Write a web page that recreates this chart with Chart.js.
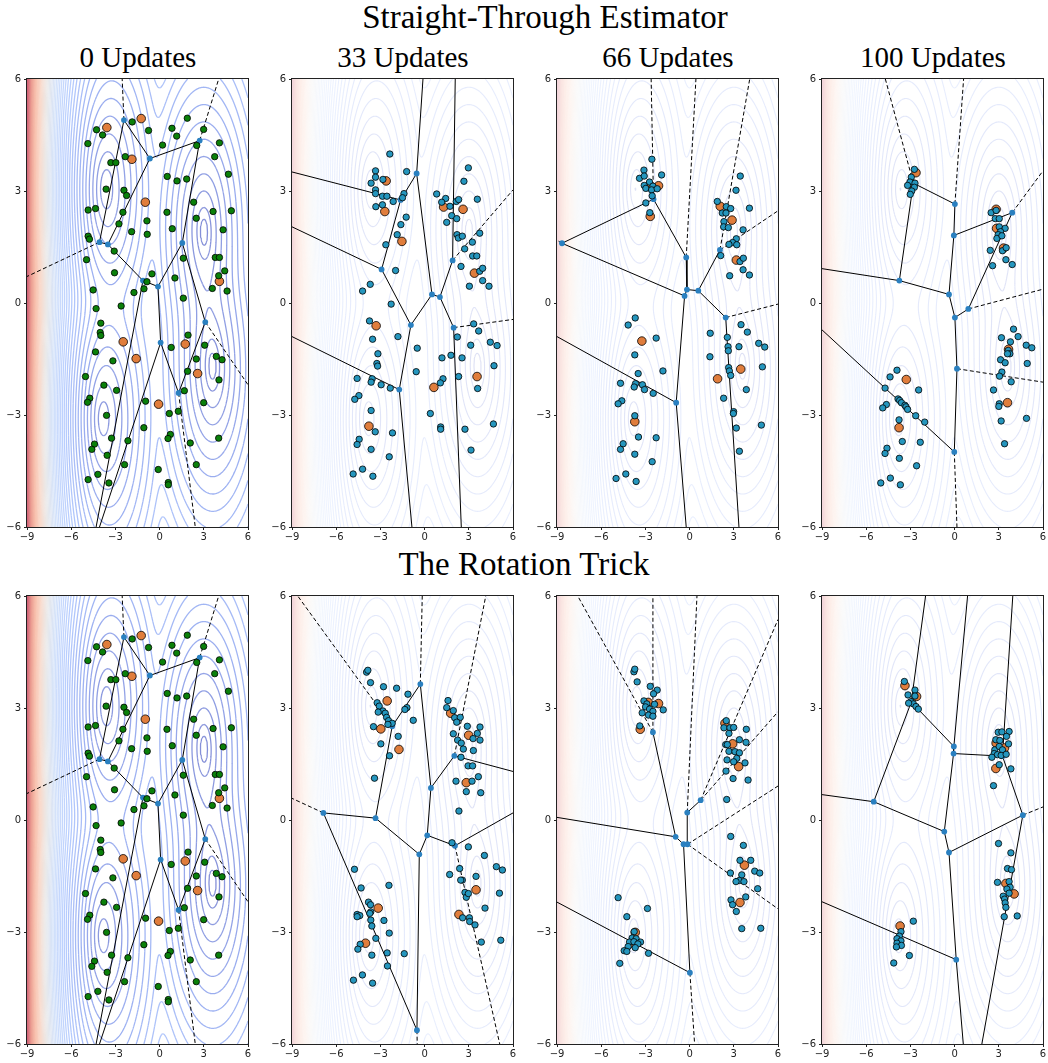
<!DOCTYPE html>
<html>
<head>
<meta charset="utf-8">
<script src="https://cdn.jsdelivr.net/npm/chart.js@4.4.1/dist/chart.umd.min.js"></script>
<style>
  body { margin: 0; background: #fff; width: 1048px; height: 1063px; position: relative; overflow: hidden; }
  .t { position: absolute; font-family: 'Liberation Serif', 'Times New Roman', serif; color: #000; white-space: nowrap; line-height: 1; text-align: center; }
  canvas { position: absolute; }
</style>
</head>
<body>
<div class="t" style="left:21px;width:1048px;top:1px;font-size:33px">Straight-Through Estimator</div>
<div class="t" style="left:0;width:1048px;top:548px;font-size:33px">The Rotation Trick</div>
<div class="t" style="left:38px;width:200px;top:43px;font-size:29px">0 Updates</div>
<div class="t" style="left:303px;width:200px;top:43px;font-size:29px">33 Updates</div>
<div class="t" style="left:568px;width:200px;top:43px;font-size:29px">66 Updates</div>
<div class="t" style="left:833px;width:200px;top:43px;font-size:29px">100 Updates</div>

<script>
// axis ticks
var xTicks = [-9, -6, -3, 0, 3, 6];
var yTicks = [-6, -3, 0, 3, 6];

// background landscape: distance to four wells, plus a wall on the left
var wellX = [-3.7, -3.9, 3.0, 3.6];
var wellY = [3.05, -3.1, 2.0, -1.8];
var wellSX = [1.1, 1.1, 1.1, 1.1];
var wellSY = [1.4, 1.4, 1.4, 1.4];
var wallHeight = 13.3, wallScale = 1.46;
var nLevels = 56;

// ---- 0 updates (same start for both methods) ----
var dataInit = [[1.88,4.95],[-1.86,4.85],[-4.28,4.64],[-0.75,4.62],[0.84,4.68],[2.99,4.65],[-3.87,4.50],[1.16,4.47],[-4.87,4.27],[0.20,4.23],[2.52,4.22],[4.06,4.29],[-2.33,3.92],[3.74,3.92],[-3.31,3.76],[-2.97,3.76],[4.67,3.45],[0.52,3.39],[1.18,3.27],[1.84,3.32],[-3.63,3.05],[-2.42,3.02],[-2.24,2.88],[2.31,2.70],[-4.35,2.53],[-4.85,2.49],[-2.49,2.43],[0.50,2.43],[3.63,2.45],[4.87,2.47],[2.49,2.27],[-0.86,2.20],[-2.76,2.12],[0.86,1.99],[4.31,1.96],[-1.90,1.91],[-0.84,1.84],[-4.85,1.79],[-4.76,1.71],[-3.08,1.39],[1.61,1.20],[3.78,1.22],[4.06,1.22],[-4.96,1.16],[4.42,0.86],[4.01,0.73],[-3.06,0.81],[-0.52,0.78],[1.04,0.67],[-0.86,0.57],[-1.06,0.38],[-4.51,0.35],[3.58,0.39],[4.58,0.32],[-1.74,0.28],[1.61,0.13],[-2.61,-0.08],[-4.31,-0.15],[-3.99,-0.54],[-4.03,-0.79],[-3.99,-0.87],[1.93,-0.86],[0.79,-1.19],[3.06,-1.13],[-4.35,-1.31],[2.49,-1.50],[3.85,-1.43],[4.24,-1.52],[-3.17,-1.55],[1.90,-1.83],[-5.03,-1.97],[4.03,-2.06],[-3.78,-2.20],[-2.92,-2.34],[1.68,-2.35],[-4.74,-2.55],[-4.89,-2.66],[-0.95,-2.63],[2.99,-2.67],[1.27,-2.90],[0.66,-2.96],[-3.60,-3.01],[-1.07,-3.34],[-3.26,-3.62],[0.73,-3.52],[0.57,-3.63],[-2.15,-3.69],[2.08,-3.75],[4.01,-3.62],[-4.42,-3.78],[-4.60,-3.92],[-3.56,-4.08],[-2.38,-4.33],[2.49,-4.33],[-0.09,-4.46],[-4.19,-4.59],[-4.85,-4.73],[-3.44,-4.82],[0.59,-4.81],[0.59,-4.87]];
var codesInit = [[-3.58,4.70],[-1.25,4.94],[-1.88,3.85],[-0.97,2.70],[4.06,0.58],[-2.47,-1.04],[-1.59,-1.49],[1.74,-1.10],[2.58,-1.89],[-0.07,-2.71]];
var vertsInit = [[-2.42,4.90],[-0.66,3.87],[2.72,4.35],[-4.08,1.63],[-3.51,1.57],[1.54,1.61],[-1.13,0.60],[-0.11,0.44],[3.10,-0.51],[0.07,-1.06],[1.29,-2.41]];
var ridgesInit = [[0,1],[1,2],[0,3],[1,4],[3,4],[4,6],[6,7],[7,5],[5,2],[5,8],[7,9],[9,10],[8,10],[6,[-4.31,-6]],[9,[-4.08,-6]]];
var raysInit = [[0,[-2.54,6]],[2,[4.01,6]],[3,[-9,0.71]],[8,[6,-2.19]],[10,[2.42,-6]]];

// ---- straight-through, 33 updates ----
var dataST33 = [[-2.36,3.99],[-3.33,3.54],[-3.33,3.37],[-3.63,3.21],[-2.83,3.31],[-1.22,3.52],[-3.33,3.03],[-3.33,2.93],[-2.86,2.86],[-2.56,2.86],[-2.13,2.72],[-1.40,2.93],[-1.50,2.82],[-3.31,2.58],[-2.86,2.63],[-1.25,2.30],[-1.61,2.10],[-1.86,1.83],[-2.63,1.56],[-1.97,0.87],[-3.69,0.50],[-4.21,0.32],[-2.27,-0.03],[-3.74,-0.48],[-1.81,-0.90],[-3.53,-0.97],[-0.50,-1.21],[-3.17,-1.36],[-3.24,-1.62],[-3.19,-1.69],[-0.57,-1.84],[-4.58,-2.02],[-3.56,-2.03],[-3.63,-2.12],[-2.95,-2.19],[-2.33,-2.28],[-4.46,-2.48],[-4.74,-2.58],[-3.63,-2.88],[-3.35,-3.45],[-2.18,-3.48],[-4.44,-3.65],[-4.58,-3.79],[-3.63,-3.92],[-2.40,-4.12],[-4.21,-4.45],[-4.85,-4.58],[-3.51,-4.64],[2.97,3.62],[2.67,3.26],[0.82,2.92],[1.43,2.80],[1.16,2.70],[1.72,2.59],[2.15,2.72],[2.31,2.77],[3.58,2.78],[1.84,2.34],[2.18,2.26],[1.50,2.16],[3.74,1.87],[2.20,1.83],[2.29,1.74],[2.56,1.79],[2.72,1.45],[3.24,1.63],[3.26,1.26],[3.54,1.26],[2.47,0.98],[3.74,0.85],[3.94,0.93],[3.94,0.60],[3.04,0.45],[4.37,0.45],[3.33,-0.56],[3.67,-0.75],[2.22,-0.91],[3.13,-1.13],[4.46,-1.05],[4.92,-1.14],[1.79,-1.40],[1.18,-1.47],[2.54,-1.47],[4.71,-1.68],[2.31,-1.97],[1.25,-2.03],[1.07,-2.14],[3.60,-2.29],[0.39,-2.96],[1.09,-3.32],[1.09,-3.38],[2.74,-3.38],[4.67,-3.24],[3.15,-3.94]];
var codesST33 = [[-2.61,3.27],[-2.70,2.45],[1.29,2.57],[2.61,2.51],[-1.54,1.65],[3.38,0.80],[-3.29,-0.61],[0.63,-2.26],[3.56,-1.97],[-3.78,-3.30]];
var vertsST33 = [[-0.54,3.47],[-1.63,2.76],[-2.92,0.90],[-0.93,-0.59],[0.50,0.23],[1.04,0.16],[1.90,1.14],[1.97,-0.66],[-1.72,-2.32]];
var ridgesST33 = [[0,[-0.11,6]],[0,1],[0,4],[1,[-9,3.51]],[1,2],[2,[-9,2.04]],[2,3],[3,4],[3,8],[4,5],[5,6],[5,7],[6,[2.08,6]],[7,[2.49,-6]],[8,[-9,-0.90]],[8,[-0.86,-6]]];
var raysST33 = [[6,[6,3.03]],[7,[6,-0.44]]];

// ---- straight-through, 66 updates ----
var dataST66 = [[-2.56,3.85],[-3.10,3.56],[-3.40,3.34],[-3.08,3.40],[-1.90,3.43],[-2.72,3.24],[-3.08,3.15],[-2.97,3.07],[-2.49,3.13],[-2.58,3.03],[-2.20,3.06],[-2.54,2.87],[-2.97,2.68],[-2.70,2.42],[3.44,3.40],[3.15,3.02],[1.88,2.72],[2.49,2.58],[2.79,2.53],[4.06,2.54],[2.22,2.41],[2.47,2.41],[2.33,2.18],[2.31,2.04],[2.63,2.02],[3.63,1.96],[3.17,1.72],[2.92,1.62],[2.67,1.57],[3.20,1.56],[2.11,1.27],[3.42,1.11],[3.65,1.20],[3.63,0.89],[2.72,0.73],[4.06,0.75],[-3.69,-0.40],[-4.17,-0.59],[-2.27,-0.94],[-3.72,-1.39],[-3.49,-1.89],[-1.81,-1.82],[-4.69,-2.15],[-3.67,-2.16],[-3.76,-2.25],[-3.20,-2.19],[-3.06,-2.32],[-2.47,-2.42],[-4.60,-2.62],[-4.85,-2.70],[-3.72,-3.02],[-3.47,-3.59],[-2.27,-3.61],[-4.51,-3.77],[-4.69,-3.92],[-3.72,-4.05],[-2.54,-4.25],[-4.33,-4.58],[-4.99,-4.70],[-3.63,-4.78],[1.40,-0.81],[3.49,-0.58],[3.92,-0.78],[2.56,-0.92],[2.61,-1.17],[3.35,-1.17],[4.69,-1.08],[5.10,-1.18],[1.38,-1.44],[2.63,-1.28],[2.65,-1.73],[2.70,-1.82],[2.79,-1.94],[4.94,-1.71],[3.85,-2.32],[2.31,-2.55],[2.99,-2.91],[2.97,-2.96],[3.17,-3.35],[4.87,-3.27],[3.38,-3.97]];
var codesST66 = [[-2.11,3.14],[-2.76,3.12],[-2.67,2.32],[2.08,2.59],[2.88,2.22],[3.17,1.15],[-3.24,-1.02],[3.47,-1.77],[1.90,-2.03],[-3.72,-3.18]];
var vertsST66 = [[-2.45,2.78],[-8.66,1.60],[-0.23,1.22],[-0.18,0.36],[-0.34,0.19],[0.59,0.33],[2.06,1.42],[2.45,-0.39],[-0.91,-2.67]];
var ridgesST66 = [[0,1],[0,2],[1,4],[2,3],[3,4],[3,5],[5,6],[5,7],[4,8],[8,[-9,-0.90]],[8,[-0.23,-6]],[7,[3.35,-6]]];
var raysST66 = [[0,[-2.61,6]],[2,[0.43,6]],[6,[4.08,6]],[6,[6,2.47]],[7,[6,-0.03]],[1,[-9,1.68]]];

// ---- straight-through, 100 updates ----
var dataST100 = [[-2.73,3.58],[-2.94,3.37],[-3.03,3.24],[-3.19,3.15],[-2.69,3.21],[-2.73,3.10],[-2.91,3.00],[-3.01,2.91],[2.48,2.42],[2.82,2.48],[2.76,2.26],[3.03,2.26],[3.03,2.04],[3.43,2.00],[3.12,1.91],[2.96,1.83],[2.87,1.73],[3.21,1.80],[2.42,1.41],[3.25,1.40],[3.50,1.48],[3.48,1.16],[2.58,1.00],[3.91,1.03],[-3.91,-1.80],[-4.38,-1.98],[-4.72,-2.28],[-2.44,-2.33],[-3.84,-2.57],[-3.73,-2.61],[-3.61,-2.67],[-4.63,-2.72],[-4.88,-2.81],[-3.37,-2.74],[-3.30,-2.78],[-3.19,-2.85],[-2.64,-3.02],[-2.03,-3.19],[-3.77,-3.13],[-3.55,-3.71],[-2.33,-3.73],[-4.59,-3.89],[-4.72,-4.03],[-3.75,-4.16],[-2.58,-4.36],[-4.36,-4.69],[-5.01,-4.82],[-3.68,-4.87],[4.00,-0.70],[4.31,-0.90],[3.18,-0.93],[3.79,-1.04],[4.86,-1.13],[5.24,-1.20],[3.64,-1.27],[3.75,-1.36],[3.59,-1.36],[3.12,-1.52],[3.43,-1.60],[4.93,-1.62],[3.21,-1.85],[3.05,-1.96],[3.84,-2.11],[2.64,-2.33],[3.03,-2.70],[3.00,-2.77],[4.88,-3.09],[3.16,-3.16],[3.39,-3.77]];
var codesST100 = [[-2.62,3.49],[-2.80,3.18],[2.82,2.51],[2.85,2.00],[3.32,1.47],[-3.28,-2.05],[3.66,-1.24],[3.59,-2.67],[-3.77,-3.34]];
var vertsST100 = [[-2.80,3.21],[0.02,2.65],[-0.05,1.81],[3.91,2.42],[-3.75,0.60],[-0.38,0.23],[0.02,-0.39],[0.93,-0.16],[0.16,-1.76],[-0.02,-3.99]];
var ridgesST100 = [[0,1],[0,4],[1,2],[2,3],[2,5],[3,7],[7,6],[5,6],[4,5],[4,[-9,0.92]],[6,8],[8,9],[9,[-9,-0.72]]];
var raysST100 = [[0,[-4.70,6]],[1,[0.61,6]],[3,[6,3.54]],[7,[6,0.37]],[8,[6,-2.12]],[9,[0.16,-6]]];

// ---- rotation trick, 33 updates ----
var dataRT33 = [[-3.94,3.96],[-3.85,4.01],[-3.67,3.68],[-2.79,3.57],[-1.90,3.53],[-1.13,3.37],[-3.22,3.14],[-3.08,3.05],[-2.83,2.92],[-3.15,2.89],[-2.67,2.86],[-2.58,2.75],[-2.45,2.66],[-2.20,2.59],[-2.49,2.56],[-1.20,3.01],[-1.34,2.96],[-0.77,2.67],[-3.47,2.50],[-1.79,2.24],[-2.97,2.04],[-2.38,1.72],[-3.40,1.12],[1.59,3.20],[1.50,3.01],[1.95,2.93],[2.04,2.74],[2.42,2.75],[2.18,2.62],[2.90,2.51],[3.76,2.49],[1.95,2.31],[3.58,2.32],[2.24,2.14],[3.29,2.18],[3.76,2.14],[2.49,2.06],[2.63,1.90],[3.31,1.86],[2.47,1.68],[2.95,1.45],[3.26,1.45],[3.65,1.16],[2.13,1.04],[3.22,1.04],[2.83,0.76],[3.81,0.73],[2.33,0.24],[1.86,-0.61],[2.97,-0.72],[4.06,-0.95],[4.87,-1.25],[5.28,-1.34],[1.70,-1.46],[2.38,-1.30],[3.49,-1.51],[2.56,-1.61],[2.45,-1.61],[2.74,-1.94],[2.83,-2.07],[2.97,-1.97],[5.08,-1.96],[4.10,-2.36],[2.58,-2.62],[3.04,-2.62],[3.06,-2.72],[3.42,-2.81],[3.85,-3.27],[5.17,-3.22],[-4.76,-1.32],[-4.31,-1.82],[-2.42,-1.75],[-3.81,-2.20],[-3.67,-2.27],[-3.65,-2.46],[-3.72,-2.50],[-4.58,-2.53],[-4.40,-2.56],[-4.58,-2.59],[-3.65,-2.68],[-3.58,-2.84],[-2.76,-2.69],[-2.40,-3.03],[-3.31,-3.17],[-4.37,-3.33],[-4.53,-3.46],[-3.58,-3.62],[-2.54,-3.56],[-1.38,-3.58],[-2.52,-3.91],[-4.22,-4.15],[-4.83,-4.29],[-3.53,-4.37]];
var codesRT33 = [[-2.54,3.19],[-2.97,2.44],[-1.74,1.89],[1.77,2.86],[2.99,2.27],[2.83,1.00],[-3.15,-2.36],[-4.01,-3.30],[2.33,-2.53],[3.49,-1.87]];
var vertsRT33 = [[-0.29,3.64],[-2.20,2.51],[0.43,0.86],[2.02,1.72],[0.18,-0.41],[2.06,-0.69],[-0.36,-0.92],[-3.33,0.05],[-6.87,0.19],[-0.52,-5.63]];
var ridgesRT33 = [[0,1],[0,2],[2,3],[3,[6,1.30]],[2,4],[4,5],[5,[6,0.19]],[4,6],[6,7],[7,1],[7,8],[6,9],[8,9]];
var raysRT33 = [[0,[-0.16,6]],[1,[-8.61,6]],[3,[4.15,6]],[5,[5.10,-6]],[8,[-9,0.58]],[9,[-0.50,-6]]];

// ---- rotation trick, 66 updates ----
var dataRT66 = [[-3.78,3.97],[-3.72,4.04],[-3.56,3.70],[-2.67,3.58],[-2.20,3.48],[-2.45,3.38],[-3.10,3.19],[-2.90,3.11],[-2.38,3.10],[-2.99,3.03],[-2.72,2.97],[-2.49,2.91],[-1.79,2.95],[-3.22,2.87],[-2.79,2.81],[-2.49,2.78],[-3.38,2.52],[2.49,2.66],[2.33,2.47],[2.74,2.47],[2.99,2.48],[3.85,2.43],[2.67,2.32],[3.38,2.15],[3.83,2.08],[2.45,2.02],[2.56,2.02],[2.67,1.84],[3.08,1.83],[3.38,1.80],[3.20,1.65],[2.54,1.61],[2.99,1.56],[3.76,1.53],[2.47,1.31],[2.95,1.11],[3.97,1.07],[2.52,0.55],[2.79,-0.44],[3.65,-0.68],[3.42,-1.08],[4.15,-1.08],[4.42,-1.37],[4.76,-1.42],[2.77,-1.42],[3.54,-1.47],[3.38,-1.62],[3.15,-1.65],[3.69,-1.65],[4.62,-1.84],[3.81,-2.06],[2.81,-2.14],[2.92,-2.27],[3.17,-2.45],[3.54,-2.91],[4.83,-2.90],[-4.85,-2.08],[-2.86,-2.37],[-4.26,-2.59],[-3.76,-2.99],[-3.90,-3.16],[-3.63,-3.18],[-3.33,-3.27],[-4.08,-3.27],[-3.78,-3.26],[-3.51,-3.32],[-3.69,-3.42],[-4.17,-3.39],[-4.44,-3.50],[-4.26,-3.52],[-2.79,-3.57],[-4.74,-3.84]];
var codesRT66 = [[-2.81,3.15],[-2.11,3.12],[-3.35,2.43],[2.40,2.59],[2.92,2.04],[3.33,1.43],[3.72,-1.21],[3.42,-2.21],[-3.69,-3.01],[-3.78,-3.32]];
var vertsRT66 = [[-2.49,2.35],[-0.95,-0.45],[-0.41,-0.65],[-0.14,-0.65],[-0.16,0.20],[0.75,0.53],[0.02,-4.09]];
var ridgesRT66 = [[0,1],[1,[-9,0.07]],[1,2],[2,3],[3,4],[4,5],[2,6],[6,[-9,-2.20]]];
var raysRT66 = [[0,[-2.49,6]],[0,[-7.59,6]],[4,[0.50,6]],[5,[6,5.37]],[5,[6,2.90]],[3,[6,0.91]],[3,[6,-2.38]],[6,[0.34,-6]]];

// ---- rotation trick, 100 updates ----
var dataRT100 = [[-3.41,3.71],[-3.16,3.35],[-2.69,3.48],[-2.69,3.32],[-2.96,3.17],[-2.80,3.11],[-2.62,3.04],[-2.46,2.97],[-3.12,3.13],[2.96,2.35],[3.21,2.36],[3.70,2.37],[3.52,2.24],[2.80,2.15],[3.07,2.13],[3.66,2.04],[2.73,1.88],[3.03,1.97],[3.25,1.88],[2.69,1.78],[2.91,1.75],[2.53,1.68],[3.16,1.73],[3.50,1.76],[3.03,1.48],[3.82,1.37],[2.64,0.92],[2.98,-0.63],[3.82,-0.88],[3.59,-1.30],[3.86,-1.33],[2.91,-1.67],[3.70,-1.65],[3.77,-1.80],[3.55,-1.85],[3.70,-1.96],[3.30,-2.04],[3.39,-2.12],[3.43,-2.22],[3.48,-2.34],[3.37,-2.59],[4.25,-2.57],[-2.80,-2.71],[-3.64,-2.99],[-3.75,-3.11],[-3.91,-3.18],[-3.64,-3.24],[-3.91,-3.30],[-3.61,-3.36],[-3.95,-3.40],[-3.07,-3.63],[-4.13,-3.83]];
var codesRT100 = [[-3.37,3.60],[-2.58,3.31],[2.82,2.06],[3.39,1.93],[2.80,1.38],[3.48,-1.70],[4.04,-1.98],[-3.70,-2.84]];
var vertsRT100 = [[-2.94,3.16],[-0.05,1.97],[-0.07,1.78],[3.25,1.71],[4.63,0.13],[-5.49,0.49],[-0.70,-0.31],[-0.38,-0.87],[0.11,-3.74]];
var ridgesRT100 = [[0,[-1.97,6]],[0,5],[0,1],[1,[0.88,6]],[1,2],[2,3],[3,[3.95,6]],[3,4],[4,7],[4,[1.85,-6]],[5,[-9,0.68]],[5,6],[6,2],[6,7],[7,8],[8,[0.59,-6]],[8,[-9,-2.19]]];
var raysRT100 = [[4,[6,0.35]]];

var panels = [
  {row: 0, col: 0, data: dataInit, codes: codesInit, verts: vertsInit, ridges: ridgesInit, rays: raysInit, dot: '#0a800a', alpha: 0.62, lw: 1.3},
  {row: 0, col: 1, data: dataST33, codes: codesST33, verts: vertsST33, ridges: ridgesST33, rays: raysST33, dot: '#2596be', alpha: 0.17, lw: 1.1},
  {row: 0, col: 2, data: dataST66, codes: codesST66, verts: vertsST66, ridges: ridgesST66, rays: raysST66, dot: '#2596be', alpha: 0.17, lw: 1.1},
  {row: 0, col: 3, data: dataST100, codes: codesST100, verts: vertsST100, ridges: ridgesST100, rays: raysST100, dot: '#2596be', alpha: 0.17, lw: 1.1},
  {row: 1, col: 0, data: dataInit, codes: codesInit, verts: vertsInit, ridges: ridgesInit, rays: raysInit, dot: '#0a800a', alpha: 0.62, lw: 1.3},
  {row: 1, col: 1, data: dataRT33, codes: codesRT33, verts: vertsRT33, ridges: ridgesRT33, rays: raysRT33, dot: '#2596be', alpha: 0.17, lw: 1.1},
  {row: 1, col: 2, data: dataRT66, codes: codesRT66, verts: vertsRT66, ridges: ridgesRT66, rays: raysRT66, dot: '#2596be', alpha: 0.17, lw: 1.1},
  {row: 1, col: 3, data: dataRT100, codes: codesRT100, verts: vertsRT100, ridges: ridgesRT100, rays: raysRT100, dot: '#2596be', alpha: 0.17, lw: 1.1}
];

// coolwarm anchors
var cwStops = [[0,59,76,192],[0.125,98,130,234],[0.25,141,176,254],[0.375,184,208,249],[0.5,221,221,221],[0.625,245,196,173],[0.75,244,154,123],[0.875,222,96,77],[1,180,4,38]];
function coolwarm(t) {
  for (var i = 1; i < cwStops.length; i++) {
    if (t <= cwStops[i][0]) {
      var a = cwStops[i-1], b = cwStops[i], f = (t - a[0]) / (b[0] - a[0]);
      return 'rgb(' + Math.round(a[1] + f*(b[1]-a[1])) + ',' + Math.round(a[2] + f*(b[2]-a[2])) + ',' + Math.round(a[3] + f*(b[3]-a[3])) + ')';
    }
  }
  return 'rgb(180,4,38)';
}

function field(x, y) {
  var p = 0;
  for (var k = 0; k < wellX.length; k++) {
    var dx = (x - wellX[k]) / wellSX[k], dy = (y - wellY[k]) / wellSY[k];
    p += Math.exp(-0.5 * (dx*dx + dy*dy));
  }
  var d = Math.sqrt(Math.max(0, -2 * Math.log(p)));
  return d + wallHeight * Math.exp(-(x + 9) / wallScale);
}

// marching squares over the whole panel range, done once
var GX = 226, GY = 452, X0 = -9, X1 = 6, Y0 = -6, Y1 = 6;
var gdx = (X1 - X0) / (GX - 1), gdy = (Y1 - Y0) / (GY - 1);
var grid = new Float64Array(GX * GY);
var fmin = Infinity, fmax = -Infinity;
for (var j = 0; j < GY; j++) for (var i = 0; i < GX; i++) {
  var v = field(X0 + i*gdx, Y0 + j*gdy);
  grid[j*GX + i] = v;
  if (v < fmin) fmin = v;
  if (v > fmax) fmax = v;
}
var step = (fmax - fmin) / nLevels;
var contourLevels = [];
for (var k = 0; k < nLevels; k++) {
  var lev = fmin + step * (k + 0.15);
  contourLevels.push({color: coolwarm(k / (nLevels - 1)), segs: traceLevel(lev)});
}

function traceLevel(lev) {
  var out = [];
  for (var j = 0; j < GY - 1; j++) {
    for (var i = 0; i < GX - 1; i++) {
      var a = grid[j*GX+i], b = grid[j*GX+i+1], c = grid[(j+1)*GX+i+1], d = grid[(j+1)*GX+i];
      var idx = (a > lev ? 1 : 0) | (b > lev ? 2 : 0) | (c > lev ? 4 : 0) | (d > lev ? 8 : 0);
      if (idx === 0 || idx === 15) continue;
      var x = X0 + i*gdx, y = Y0 + j*gdy;
      var e = [];
      if ((a > lev) !== (b > lev)) e.push([x + gdx*(lev-a)/(b-a), y]);
      if ((b > lev) !== (c > lev)) e.push([x + gdx, y + gdy*(lev-b)/(c-b)]);
      if ((d > lev) !== (c > lev)) e.push([x + gdx*(lev-d)/(c-d), y + gdy]);
      if ((a > lev) !== (d > lev)) e.push([x, y + gdy*(lev-a)/(d-a)]);
      if (e.length === 2) {
        out.push(e[0][0], e[0][1], e[1][0], e[1][1]);
      } else if (e.length === 4) {
        var mid = (a + b + c + d) / 4;
        if ((idx === 5) === (mid > lev)) {
          out.push(e[0][0], e[0][1], e[1][0], e[1][1], e[2][0], e[2][1], e[3][0], e[3][1]);
        } else {
          out.push(e[0][0], e[0][1], e[3][0], e[3][1], e[1][0], e[1][1], e[2][0], e[2][1]);
        }
      }
    }
  }
  return out;
}

// contour lines are drawn opaque on a layer, then the layer is laid down with the panel's alpha
var contourPlugin = {
  id: 'contours',
  beforeDatasetsDraw: function(chart, args, opts) {
    var ctx = chart.ctx, area = chart.chartArea, xs = chart.scales.x, ys = chart.scales.y;
    var w = Math.ceil(area.right - area.left), h = Math.ceil(area.bottom - area.top);
    var layer = document.createElement('canvas');
    layer.width = w; layer.height = h;
    var lc = layer.getContext('2d');
    lc.lineWidth = opts.lw;
    contourLevels.forEach(function(L) {
      var s = L.segs;
      lc.strokeStyle = L.color;
      lc.beginPath();
      for (var n = 0; n < s.length; n += 4) {
        lc.moveTo(xs.getPixelForValue(s[n]) - area.left, ys.getPixelForValue(s[n+1]) - area.top);
        lc.lineTo(xs.getPixelForValue(s[n+2]) - area.left, ys.getPixelForValue(s[n+3]) - area.top);
      }
      lc.stroke();
    });
    ctx.save();
    ctx.globalAlpha = opts.alpha;
    ctx.drawImage(layer, area.left, area.top);
    ctx.restore();
  }
};

var framePlugin = {
  id: 'frame',
  afterDatasetsDraw: function(chart) {
    var ctx = chart.ctx, a = chart.chartArea;
    ctx.save();
    ctx.strokeStyle = '#222';
    ctx.lineWidth = 1;
    ctx.strokeRect(a.left - 0.5, a.top - 0.5, a.right - a.left + 1, a.bottom - a.top + 1);
    ctx.restore();
  }
};

function pt(verts, v) { return Array.isArray(v) ? v : verts[v]; }
function segData(verts, list) {
  var out = [];
  list.forEach(function(r) {
    var p = pt(verts, r[0]), q = pt(verts, r[1]);
    out.push({x: p[0], y: p[1]}, {x: q[0], y: q[1]}, {x: NaN, y: NaN});
  });
  return out;
}
function toPts(arr) { return arr.map(function(p) { return {x: p[0], y: p[1]}; }); }
function fmt(v) { return v < 0 ? '\u2212' + Math.abs(v) : String(v); }

var CW = 254, CH = 479;
panels.forEach(function(p) {
  var cv = document.createElement('canvas');
  cv.width = CW; cv.height = CH;
  cv.style.width = CW + 'px'; cv.style.height = CH + 'px';
  cv.style.left = (265 * p.col) + 'px';
  cv.style.top = (p.row === 0 ? 70 : 587) + 'px';
  document.body.appendChild(cv);

  new Chart(cv, {
    type: 'scatter',
    data: {
      datasets: [
        {data: segData(p.verts, p.ridges), showLine: true, spanGaps: false, borderColor: '#000', borderWidth: 1, pointRadius: 0, order: 5},
        {data: segData(p.verts, p.rays), showLine: true, spanGaps: false, borderColor: '#000', borderWidth: 1, borderDash: [4, 2.5], pointRadius: 0, order: 4},
        {data: toPts(p.verts), pointRadius: 2.9, pointBackgroundColor: '#2a80c0', pointBorderWidth: 0, order: 3},
        {data: toPts(p.codes), pointRadius: 4.3, pointBackgroundColor: '#e07d3c', pointBorderColor: '#000', pointBorderWidth: 0.8, order: 2},
        {data: toPts(p.data), pointRadius: 3.2, pointBackgroundColor: p.dot, pointBorderColor: '#000', pointBorderWidth: 0.8, order: 1}
      ]
    },
    options: {
      responsive: false,
      animation: false,
      events: [],
      layout: {padding: {top: 6, right: 6, left: 0, bottom: 0}},
      plugins: {legend: {display: false}, tooltip: {enabled: false}, contours: {alpha: p.alpha, lw: p.lw}},
      scales: {
        x: {
          type: 'linear', min: -9, max: 6,
          afterFit: function(s) { s.height = 22; },
          afterBuildTicks: function(s) { s.ticks = xTicks.map(function(v) { return {value: v}; }); },
          ticks: {font: {family: 'DejaVu Sans', size: 10}, color: '#222', padding: 1, maxRotation: 0, autoSkip: false, callback: fmt},
          grid: {drawOnChartArea: false, tickLength: 3, color: '#222'},
          border: {display: false}
        },
        y: {
          type: 'linear', min: -6, max: 6,
          afterFit: function(s) { s.width = 27; },
          afterBuildTicks: function(s) { s.ticks = yTicks.map(function(v) { return {value: v}; }); },
          ticks: {font: {family: 'DejaVu Sans', size: 10}, color: '#222', padding: 3, autoSkip: false, callback: fmt},
          grid: {drawOnChartArea: false, tickLength: 3, color: '#222'},
          border: {display: false}
        }
      }
    },
    plugins: [contourPlugin, framePlugin]
  });
});
</script>
</body>
</html>
